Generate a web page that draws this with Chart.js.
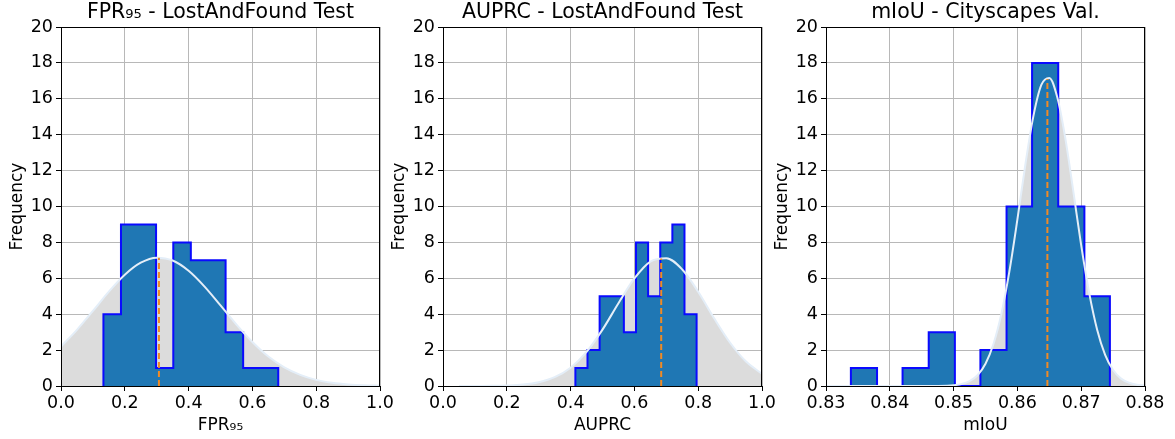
<!DOCTYPE html>
<html>
<head>
<meta charset="utf-8">
<script src="https://cdn.jsdelivr.net/npm/chart.js@4.4.1/dist/chart.umd.min.js"></script>
<style>
  html, body { margin: 0; padding: 0; background: #fff; overflow: hidden; }
  .panel { position: absolute; top: 0; height: 439px; }
</style>
</head>
<body>
<div class="panel" style="left:0px"><canvas id="fprChart"></canvas></div>
<div class="panel" style="left:382px"><canvas id="auprcChart"></canvas></div>
<div class="panel" style="left:765px"><canvas id="miouChart"></canvas></div>
<script>
// 直方圖: bin 邊界和次數
const fprEdges = [0.133, 0.188, 0.243, 0.298, 0.352, 0.407, 0.462, 0.516, 0.571, 0.626, 0.681];
const fprCounts = [4, 9, 9, 1, 8, 7, 7, 3, 1, 1];
const auprcEdges = [0.415, 0.453, 0.491, 0.529, 0.567, 0.605, 0.643, 0.681, 0.719, 0.757, 0.795];
const auprcCounts = [1, 2, 5, 5, 3, 8, 5, 8, 9, 4];
const miouEdges = [0.8339, 0.8380, 0.8420, 0.8461, 0.8502, 0.8542, 0.8583, 0.8623, 0.8664, 0.8705, 0.8745];
const miouCounts = [1, 0, 1, 3, 0, 2, 10, 18, 10, 5];

// 常態分佈曲線 (灰色區域 / 白線), 從圖上估計
const fprCurveX = [0, 0.05, 0.1, 0.15, 0.2, 0.25, 0.3, 0.35, 0.4, 0.45, 0.5, 0.55, 0.6, 0.65, 0.7, 0.75, 0.8, 0.85, 0.9, 0.95, 1.0];
const fprCurveY = [2.2, 3.13, 4.18, 5.26, 6.2, 6.87, 7.15, 6.99, 6.42, 5.54, 4.49, 3.42, 2.45, 1.64, 1.04, 0.62, 0.34, 0.18, 0.09, 0.04, 0.02];
const auprcCurveX = [0.05, 0.1, 0.15, 0.2, 0.25, 0.3, 0.35, 0.4, 0.45, 0.5, 0.55, 0.6, 0.65, 0.7, 0.75, 0.8, 0.85, 0.9, 0.95, 1.0];
const auprcCurveY = [0.0, 0.0, 0.01, 0.03, 0.08, 0.21, 0.49, 1.02, 1.9, 3.14, 4.61, 5.99, 6.93, 7.12, 6.49, 5.25, 3.77, 2.41, 1.36, 0.68];
const miouCurveX = [0.83, 0.835, 0.84, 0.845, 0.8475, 0.85, 0.85125, 0.8525, 0.85375, 0.855, 0.85625, 0.8575, 0.85875, 0.86, 0.86125, 0.8625, 0.86375, 0.865, 0.86625, 0.8675, 0.86875, 0.87, 0.87125, 0.8725, 0.87375, 0.875, 0.87625, 0.8775, 0.87875, 0.88];
const miouCurveY = [0, 0, 0, 0, 0.004, 0.04, 0.11, 0.27, 0.6, 1.24, 2.34, 4.04, 6.4, 9.28, 12.34, 15.02, 16.77, 17.16, 16.08, 13.82, 10.88, 7.84, 5.19, 3.14, 1.74, 0.89, 0.41, 0.18, 0.07, 0.025];

// 平均值虛線 (x, 高度)
const fprMean = [0.307, 7.15];
const auprcMean = [0.684, 7.1];
const miouMean = [0.8647, 17.1];

// 座標軸刻度
const unitTicks = [0, 0.2, 0.4, 0.6, 0.8, 1.0];
const miouTicks = [0.83, 0.84, 0.85, 0.86, 0.87, 0.88];
const freqTicks = [0, 2, 4, 6, 8, 10, 12, 14, 16, 18, 20];

const FONT = 'DejaVu Sans';
const TICK_SIZE = 17.5;
const LABEL_SIZE = 17;

// 標題置中於繪圖區 + 四邊黑框
const framePlugin = {
  id: 'frame',
  afterDraw(chart, args, opts) {
    const { ctx, chartArea: a } = chart;
    ctx.save();
    ctx.strokeStyle = '#000';
    ctx.lineWidth = 1;
    ctx.strokeRect(a.left + 0.5, a.top + 0.5, a.right - a.left - 1, a.bottom - a.top);
    ctx.fillStyle = '#000';
    ctx.font = `20.5px "${FONT}"`;
    ctx.textAlign = 'center';
    ctx.textBaseline = 'middle';
    ctx.fillText(opts.text, (a.left + a.right) / 2, 13);
    ctx.restore();
  }
};

function histPoints(edges, counts) {
  const pts = [{ x: edges[0], y: 0 }];
  counts.forEach((c, i) => pts.push({ x: edges[i + 1], y: c }));
  pts.push({ x: edges[edges.length - 1], y: 0 });
  return pts;
}

function makeChart(id, opt) {
  const curve = opt.curveX.map((x, i) => ({ x, y: opt.curveY[i] }));
  const canvas = document.getElementById(id);
  canvas.width = opt.width;
  canvas.height = 439;
  return new Chart(canvas, {
    type: 'line',
    data: {
      datasets: [
        // 排在前面的畫在上層
        {
          data: [{ x: opt.mean[0], y: 0 }, { x: opt.mean[0], y: opt.mean[1] }],
          borderColor: '#f08a24', borderWidth: 2, borderDash: [6, 3], pointRadius: 0, fill: false
        },
        {
          data: curve, borderColor: '#e4eef8', borderWidth: 2, pointRadius: 0,
          cubicInterpolationMode: 'monotone', fill: false
        },
        {
          data: histPoints(opt.edges, opt.counts), stepped: 'after',
          borderColor: '#0a0aff', borderWidth: 2, backgroundColor: '#1f77b4',
          pointRadius: 0, fill: 'origin'
        },
        {
          data: curve, borderWidth: 0, borderColor: 'rgba(0,0,0,0)', backgroundColor: '#dcdcdc',
          pointRadius: 0, cubicInterpolationMode: 'monotone', fill: 'origin'
        }
      ]
    },
    options: {
      responsive: false,
      animation: false,
      layout: { padding: { top: 27, right: opt.width - 380, left: 0, bottom: 0 } },
      plugins: {
        legend: { display: false },
        tooltip: { enabled: false },
        frame: { text: opt.title }
      },
      scales: {
        x: {
          type: 'linear', min: opt.xMin, max: opt.xMax,
          afterBuildTicks: s => { s.ticks = opt.xTicks.map(v => ({ value: v })); },
          afterFit: s => { s.height = 53; s.paddingLeft = 0; s.paddingRight = 0; },
          grid: { color: '#b8b8b8', lineWidth: 1, tickColor: '#000', tickLength: 5 },
          border: { color: '#000' },
          ticks: {
            color: '#000', font: { family: FONT, size: TICK_SIZE }, padding: 2, maxRotation: 0,
            callback: v => v.toFixed(opt.digits)
          },
          title: { display: true, text: opt.xLabel, color: '#000', font: { family: FONT, size: LABEL_SIZE }, padding: { top: 0, bottom: 3 } }
        },
        y: {
          min: 0, max: 20,
          afterBuildTicks: s => { s.ticks = freqTicks.map(v => ({ value: v })); },
          afterFit: s => { s.width = 61; s.paddingTop = 0; s.paddingBottom = 0; },
          grid: { color: '#b8b8b8', lineWidth: 1, tickColor: '#000', tickLength: 5 },
          border: { color: '#000' },
          ticks: { color: '#000', font: { family: FONT, size: TICK_SIZE }, padding: 3 },
          title: { display: true, text: 'Frequency', color: '#000', font: { family: FONT, size: LABEL_SIZE }, padding: { top: 7, bottom: 0 } }
        }
      }
    },
    plugins: [framePlugin]
  });
}

makeChart('fprChart', {
  title: 'FPR₉₅ - LostAndFound Test', xLabel: 'FPR₉₅', width: 402,
  edges: fprEdges, counts: fprCounts, curveX: fprCurveX, curveY: fprCurveY, mean: fprMean,
  xMin: 0, xMax: 1, xTicks: unitTicks, digits: 1
});
makeChart('auprcChart', {
  title: 'AUPRC - LostAndFound Test', xLabel: 'AUPRC', width: 402,
  edges: auprcEdges, counts: auprcCounts, curveX: auprcCurveX, curveY: auprcCurveY, mean: auprcMean,
  xMin: 0, xMax: 1, xTicks: unitTicks, digits: 1
});
makeChart('miouChart', {
  title: 'mIoU - Cityscapes Val.', xLabel: 'mIoU', width: 410,
  edges: miouEdges, counts: miouCounts, curveX: miouCurveX, curveY: miouCurveY, mean: miouMean,
  xMin: 0.83, xMax: 0.88, xTicks: miouTicks, digits: 2
});
</script>
</body>
</html>
